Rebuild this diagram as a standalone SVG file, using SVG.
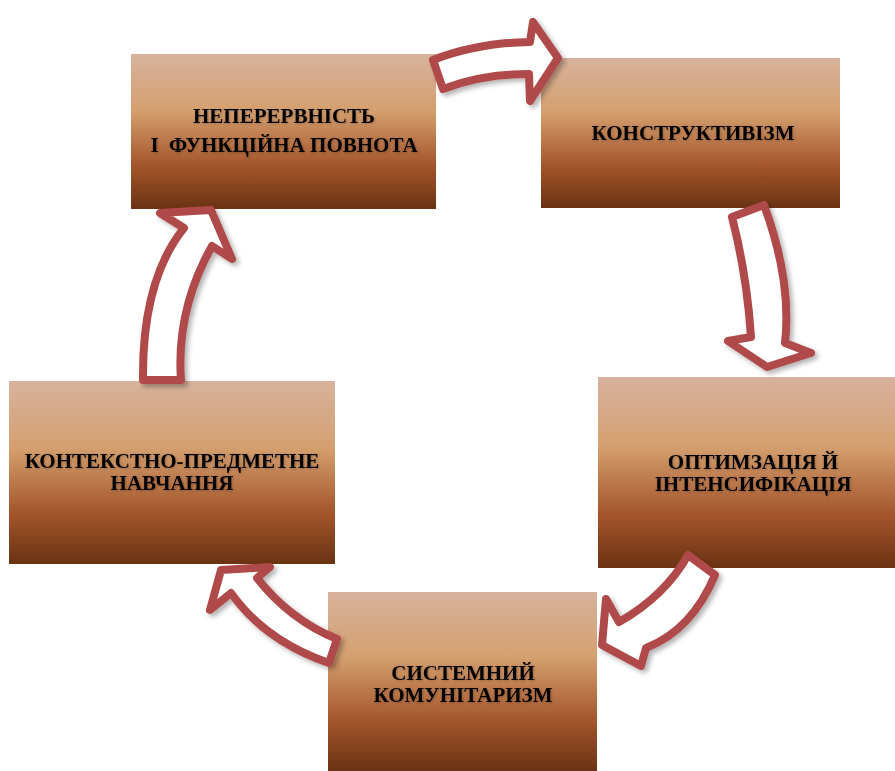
<svg xmlns="http://www.w3.org/2000/svg" width="895" height="771" viewBox="0 0 895 771">
  <defs>
    <linearGradient id="boxFill" x1="0" y1="0" x2="0" y2="1">
      <stop offset="0" stop-color="#d7b29d"/>
      <stop offset="0.36" stop-color="#d5a06f"/>
      <stop offset="0.72" stop-color="#a4552b"/>
      <stop offset="1" stop-color="#6a3313"/>
    </linearGradient>
    <filter id="arrowShadow" x="-20%" y="-20%" width="140%" height="140%">
      <feDropShadow dx="3" dy="3" stdDeviation="2.5" flood-color="#000" flood-opacity="0.3"/>
    </filter>
    <filter id="textShadow" x="-5%" y="-20%" width="110%" height="140%">
      <feDropShadow dx="0.8" dy="0.8" stdDeviation="0.9" flood-color="#000" flood-opacity="0.25"/>
    </filter>
  </defs>
  <style>
    .box { fill: url(#boxFill); }
    .label { font-family: "Liberation Serif", "Times New Roman", serif; font-weight: bold; font-size: 21px; fill: #000; text-anchor: middle; filter: url(#textShadow); }
    .arrow { fill: #ffffff; stroke: #b04a48; stroke-width: 8; stroke-linejoin: round; filter: url(#arrowShadow); }
  </style>

  <rect width="895" height="771" fill="#ffffff"/>

  <g id="node-continuity">
    <rect class="box" x="131" y="54" width="305" height="155"/>
    <text class="label" x="284" y="123">НЕПЕРЕРВНІСТЬ</text>
    <text class="label" x="284" y="152" xml:space="preserve">І  ФУНКЦІЙНА ПОВНОТА</text>
  </g>

  <g id="node-constructivism">
    <rect class="box" x="541" y="58" width="299" height="150"/>
    <text class="label" x="693" y="140">КОНСТРУКТИВІЗМ</text>
  </g>

  <g id="node-optimization">
    <rect class="box" x="598" y="377" width="297" height="191"/>
    <text class="label" x="753" y="469">ОПТИМЗАЦІЯ Й</text>
    <text class="label" x="753" y="491">ІНТЕНСИФІКАЦІЯ</text>
  </g>

  <g id="node-communitarianism">
    <rect class="box" x="328" y="592" width="269" height="179"/>
    <text class="label" x="463" y="680">СИСТЕМНИЙ</text>
    <text class="label" x="463" y="702">КОМУНІТАРИЗМ</text>
  </g>

  <g id="node-context">
    <rect class="box" x="9" y="381" width="326" height="183"/>
    <text class="label" x="172" y="468">КОНТЕКСТНО-ПРЕДМЕТНЕ</text>
    <text class="label" x="172" y="490">НАВЧАННЯ</text>
  </g>

  <g id="connectors">
    <!-- top: continuity -> constructivism -->
    <path class="arrow" d="M433,60 Q476,43 530,42 L533,22 L558,58 L530,101 L529,74 Q482,74 443,89 Z"/>
    <!-- right: constructivism -> optimization -->
    <path class="arrow" d="M732,217 L764,205 Q792,281 785,343 L811,353 L767,367 L728,341 L751,337 Q747,275 732,217 Z"/>
    <!-- lower right: optimization -> communitarianism -->
    <path class="arrow" d="M688,555 L715,575 Q692,630 646,648 L641,666 L602,645 L606,599 L619,622 Q665,596 688,555 Z"/>
    <!-- lower left: communitarianism -> context -->
    <path class="arrow" d="M337,639 Q290,620 257,578 L270,567 L221,570 L210,610 L231,593 Q265,641 329,663 Z"/>
    <!-- left: context -> continuity -->
    <path class="arrow" d="M143,380 Q142,280 184,228 L160,213 L211,210 L232,259 L212,246 Q176,310 181,380 Z"/>
  </g>
</svg>
